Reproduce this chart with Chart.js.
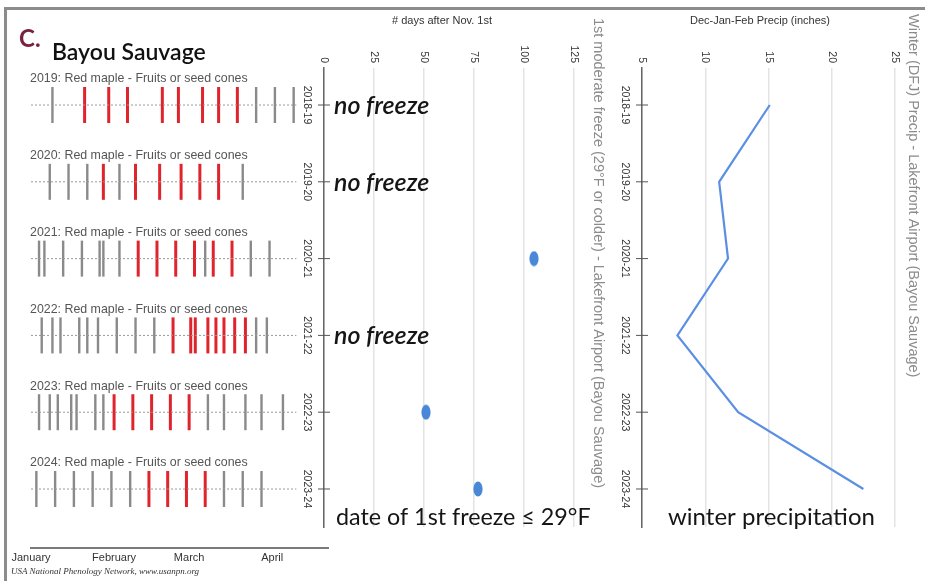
<!DOCTYPE html>
<html>
<head>
<meta charset="utf-8">
<script src="https://cdn.jsdelivr.net/npm/chart.js@4.4.1/dist/chart.umd.min.js"></script>
<style>
html, body { margin: 0; padding: 0; background: #fff; }
#wrap { position: relative; width: 925px; height: 581px; overflow: hidden; background: #fff; }
#wrap canvas { position: absolute; left: 0; top: 0; }
.frame { position: absolute; left: 4px; top: 7px; width: 940px; height: 600px; border-top: 3px solid #8c8c8c; border-left: 3px solid #8c8c8c; }
.tag { position: absolute; left: 19px; top: 26px; font: bold 24px Lato; color: #7b2140; line-height: 1; }
.site { position: absolute; left: 52px; top: 40px; font: 600 23px Lato; color: #111; line-height: 1; }
.src { position: absolute; left: 11px; top: 567px; font: italic 9px "Liberation Serif"; color: #333; line-height: 1; }
</style>
</head>
<body>
<div id="wrap">
  <div class="frame"></div>
  <canvas id="strips" width="925" height="581"></canvas>
  <canvas id="freeze" width="925" height="581"></canvas>
  <canvas id="precip" width="925" height="581"></canvas>
  <div class="tag">C.</div>
  <div class="site">Bayou Sauvage</div>
  <div class="src">USA National Phenology Network, www.usanpn.org</div>
</div>
<script>
// winter seasons (rows of the freeze and precip panels)
const seasons = ['2018-19', '2019-20', '2020-21', '2021-22', '2022-23', '2023-24'];

// phenology strips: day of year (0 = Jan 1) of each observation
const stripYears = [2019, 2020, 2021, 2022, 2023, 2024];
const noConeDays = [
  [8, 84, 91, 98],
  [7, 14, 21, 33, 79],
  [3, 5, 12, 19, 25.6, 27, 33, 65, 82, 89],
  [4, 8, 11, 18, 21, 25, 32, 39, 46, 84, 88],
  [3, 7, 10, 15, 17, 24, 27, 66, 72, 80, 86, 94],
  [2, 9, 16, 23, 30, 37, 72, 79, 86]
];
const coneDays = [
  [20, 29, 36, 49, 55, 64, 70, 77],
  [27, 39, 48, 56, 63, 70],
  [40, 47, 54, 61, 68, 75],
  [53, 59.6, 61.3, 66, 69, 72, 76, 80],
  [31, 38, 45, 52, 59],
  [44, 51, 58, 65]
];
const monthStarts = [0, 31, 59, 90];
const monthNames = ['January', 'February', 'March', 'April'];

// 1st freeze <= 29F, days after Nov. 1st (null = no freeze)
const freezeDays = [null, null, 105, null, 51, 77];

// Dec-Jan-Feb precip (inches)
const winterPrecip = [15.1, 11.1, 11.8, 7.8, 12.6, 22.5];

const sans = '"Liberation Sans", Arial, sans-serif';

function rotText(ctx, txt, px, py, align) {
  ctx.save();
  ctx.translate(px, py);
  ctx.rotate(Math.PI / 2);
  ctx.textAlign = align;
  ctx.textBaseline = 'middle';
  ctx.fillText(txt, 0, 0);
  ctx.restore();
}

// labels for the two right panels (rotated ticks, titles, season ticks)
function panelText(opts) {
  return {
    id: 'panelText',
    afterDraw(chart) {
      const { ctx, chartArea: a, scales: { x, y } } = chart;
      ctx.save();
      ctx.fillStyle = '#333';
      ctx.font = '10.5px ' + sans;
      x.ticks.forEach(t => rotText(ctx, String(t.value), x.getPixelForValue(t.value), a.top - 5, 'right'));
      seasons.forEach((s, i) => {
        const py = y.getPixelForValue(i);
        ctx.fillStyle = '#333';
        rotText(ctx, s, a.left - 17, py, 'center');
        ctx.strokeStyle = '#555';
        ctx.lineWidth = 1;
        ctx.beginPath();
        ctx.moveTo(a.left - 6, py);
        ctx.lineTo(a.left + 6, py);
        ctx.stroke();
      });
      ctx.fillStyle = '#333';
      ctx.font = '11px ' + sans;
      ctx.textAlign = 'center';
      ctx.textBaseline = 'middle';
      ctx.fillText(opts.top, a.left + opts.topDx, 21);
      ctx.fillStyle = '#8c8c8c';
      ctx.font = '14.5px ' + sans;
      rotText(ctx, opts.side, a.right + opts.sideDx, opts.sideY, 'left');
      ctx.fillStyle = '#151515';
      ctx.font = opts.noteSize + 'px Lato';
      ctx.textAlign = 'left';
      ctx.textBaseline = 'alphabetic';
      ctx.fillText(opts.note, a.left + opts.noteDx, 525);
      if (opts.extra) opts.extra(chart);
      ctx.restore();
    }
  };
}

function rowAxis(max) {
  return {
    type: 'linear', reverse: true, min: -0.482, max: max,
    ticks: { display: false },
    grid: { display: false, drawTicks: false },
    border: { color: '#666', width: 1.5 },
    afterFit: s => { s.width = 0; }
  };
}

const base = {
  responsive: false,
  animation: false,
  events: [],
  plugins: { legend: { display: false }, tooltip: { enabled: false } }
};

// ---- left: phenology strips
const stripTitles = {
  id: 'stripTitles',
  afterDraw(chart) {
    const { ctx, scales: { x, y } } = chart;
    ctx.save();
    ctx.fillStyle = '#555';
    ctx.font = '12.4px ' + sans;
    ctx.textBaseline = 'middle';
    stripYears.forEach((yr, i) => {
      ctx.fillText(yr + ': Red maple - Fruits or seed cones', x.getPixelForValue(0) - 1, y.getPixelForValue(i) - 26);
    });
    ctx.restore();
  }
};

const tickStyle = { type: 'scatter', pointStyle: 'line', pointRotation: 90, pointRadius: 18, pointHoverRadius: 18, clip: false };

new Chart(document.getElementById('strips'), {
  type: 'scatter',
  data: {
    datasets: [
      ...stripYears.map((yr, i) => ({
        type: 'line', data: [{ x: 0, y: i }, { x: 99, y: i }],
        borderColor: '#999', borderWidth: 1, borderDash: [2, 2], pointRadius: 0
      })),
      Object.assign({
        data: noConeDays.flatMap((days, i) => days.map(d => ({ x: d, y: i }))),
        borderColor: '#8a8a8a', pointBorderColor: '#8a8a8a', pointBorderWidth: 2.4
      }, tickStyle),
      Object.assign({
        data: coneDays.flatMap((days, i) => days.map(d => ({ x: d, y: i }))),
        borderColor: '#e0242c', pointBorderColor: '#e0242c', pointBorderWidth: 3
      }, tickStyle)
    ]
  },
  options: Object.assign({}, base, {
    layout: { padding: { left: 31, right: 596.5, top: 68, bottom: 3 } },
    scales: {
      x: {
        type: 'linear', min: 0, max: 111,
        afterBuildTicks: s => { s.ticks = monthStarts.map(v => ({ value: v })); },
        ticks: {
          callback: (v, i) => monthNames[i], autoSkip: false, maxRotation: 0,
          font: { family: 'Liberation Sans', size: 11 }, color: '#333', padding: 3
        },
        grid: { display: false, drawTicks: false },
        border: { color: '#7a7a7a', width: 2 },
        afterFit: s => { s.height = 30; }
      },
      y: { type: 'linear', reverse: true, min: -0.482, max: 5.768, display: false }
    }
  }),
  plugins: [stripTitles]
});

// ---- middle: first freeze
const dot = document.createElement('canvas');
dot.width = 10; dot.height = 16;
(function () {
  const c = dot.getContext('2d');
  c.fillStyle = '#4a87d6';
  c.beginPath();
  c.ellipse(5, 8, 4.6, 7.6, 0, 0, Math.PI * 2);
  c.fill();
})();

new Chart(document.getElementById('freeze'), {
  type: 'scatter',
  data: {
    datasets: [{
      data: freezeDays.map((d, i) => d === null ? null : { x: d, y: i }).filter(p => p),
      pointStyle: dot, pointRadius: 8, clip: false
    }]
  },
  options: Object.assign({}, base, {
    layout: { padding: { left: 324, right: 351, top: 68, bottom: 54 } },
    scales: {
      x: {
        type: 'linear', position: 'top', min: 0, max: 125,
        ticks: { stepSize: 25, display: false },
        grid: { color: '#e3e3e3', lineWidth: 1.5, drawTicks: false },
        border: { display: false },
        afterFit: s => { s.height = 0; }
      },
      y: rowAxis(5.495)
    }
  }),
  plugins: [panelText({
    top: '# days after Nov. 1st', topDx: 118,
    side: '1st moderate freeze (29°F or colder) - Lakefront Airport (Bayou Sauvage)', sideDx: 24, sideY: 18,
    note: 'date of 1st freeze ≤ 29°F', noteDx: 12, noteSize: 23.3,
    extra(chart) {
      const { ctx, chartArea: a, scales: { y } } = chart;
      ctx.fillStyle = '#151515';
      ctx.font = 'italic 600 25px Lato';
      ctx.textAlign = 'left';
      ctx.textBaseline = 'middle';
      freezeDays.forEach((d, i) => {
        if (d === null) ctx.fillText('no freeze', a.left + 10, y.getPixelForValue(i) + 1);
      });
    }
  })]
});

// ---- right: winter precipitation
new Chart(document.getElementById('precip'), {
  type: 'scatter',
  data: {
    datasets: [{
      data: winterPrecip.map((v, i) => ({ x: v, y: i })),
      showLine: true, borderColor: '#5b8fe3', borderWidth: 2.2, pointRadius: 0, clip: false
    }]
  },
  options: Object.assign({}, base, {
    layout: { padding: { left: 642, right: 30, top: 68, bottom: 54 } },
    scales: {
      x: {
        type: 'linear', position: 'top', min: 5, max: 25,
        ticks: { stepSize: 5, display: false },
        grid: { color: '#e3e3e3', lineWidth: 1.5, drawTicks: false },
        border: { display: false },
        afterFit: s => { s.height = 0; }
      },
      y: rowAxis(5.495)
    }
  }),
  plugins: [panelText({
    top: 'Dec-Jan-Feb Precip (inches)', topDx: 118,
    side: 'Winter (DFJ) Precip - Lakefront Airport (Bayou Sauvage)', sideDx: 18, sideY: 14,
    note: 'winter precipitation', noteDx: 26, noteSize: 24
  })]
});
</script>
</body>
</html>
